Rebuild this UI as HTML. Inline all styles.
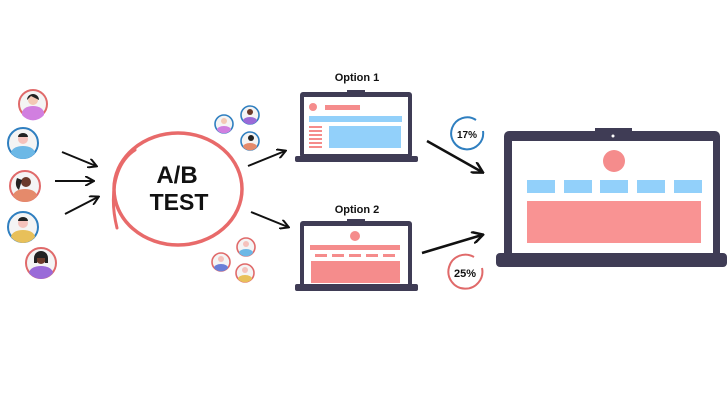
<!DOCTYPE html>
<html><head><meta charset="utf-8"><style>html,body{margin:0;padding:0;background:#fff;width:727px;height:409px;overflow:hidden}svg{display:block}text{font-family:"Liberation Sans",sans-serif;font-weight:bold;fill:#111}</style></head><body>
<svg width="727" height="409" viewBox="0 0 727 409" xmlns="http://www.w3.org/2000/svg">
<defs>
<marker id="ah" viewBox="0 0 10 10" refX="8" refY="5" markerWidth="5" markerHeight="5" orient="auto"><path d="M0,0 L9,5 L0,10" fill="none" stroke="#111" stroke-width="2"/></marker>
</defs>
<g stroke="#111" stroke-width="2" fill="none" marker-end="url(#ah)">
<line x1="62" y1="152" x2="96" y2="166"/><line x1="55" y1="181" x2="93" y2="181"/><line x1="65" y1="214" x2="98" y2="197"/>
<line x1="248" y1="166" x2="285" y2="151"/><line x1="251" y1="212" x2="288" y2="227"/>
<line x1="427" y1="141" x2="482" y2="172" stroke-width="2.5"/><line x1="422" y1="253" x2="482" y2="235" stroke-width="2.5"/>
</g>
<g stroke-width="2">
<g><circle cx="33" cy="104" r="14" fill="#f4f4f4" stroke="#e06a6a"/><path d="M22,113 a11,7 0 0 1 22,0 v2 a14,14 0 0 1 -22,0z" fill="#d17fe0"/><circle cx="33" cy="100" r="5" fill="#f3c9b5"/><path d="M27,100 a6,6 0 0 1 12,0 l-2,-1 -6,-3z" fill="#222"/></g>
<g><circle cx="23" cy="143" r="15" fill="#f4f4f4" stroke="#2f7fc0"/><path d="M11,153 a12,7 0 0 1 24,0 a15,15 0 0 1 -24,0z" fill="#6cb8e6"/><circle cx="23" cy="139" r="5" fill="#f5c2bc"/><path d="M18,137 a5,4 0 0 1 10,0z" fill="#222"/></g>
<g><circle cx="25" cy="186" r="15" fill="#f4f4f4" stroke="#e06a6a"/><path d="M13,196 a12,7 0 0 1 24,0 a15,15 0 0 1 -24,0z" fill="#e58a6b"/><circle cx="26" cy="182" r="5" fill="#6b3a2a"/><path d="M17,178 q-3,8 2,12 l3,-10z" fill="#222"/></g>
<g><circle cx="23" cy="227" r="15" fill="#f4f4f4" stroke="#2f7fc0"/><path d="M11,237 a12,7 0 0 1 24,0 a15,15 0 0 1 -24,0z" fill="#e8c05a"/><circle cx="23" cy="223" r="5" fill="#f5c2bc"/><path d="M18,221 a5,4 0 0 1 10,0z" fill="#222"/></g>
<g><circle cx="41" cy="263" r="15" fill="#f4f4f4" stroke="#e06a6a"/><path d="M29,273 a12,7 0 0 1 24,0 a15,15 0 0 1 -24,0z" fill="#9a6ad8"/><circle cx="41" cy="259" r="5" fill="#6b3a2a"/><path d="M34,263 v-5 a7,7 0 0 1 14,0 v5 h-3 v-5 h-8 v5z" fill="#222"/></g>
</g>
<g stroke-width="1.6">
<g><circle cx="224" cy="124" r="9" fill="#f4f4f4" stroke="#2f7fc0"/><path d="M217,130 a7,4 0 0 1 14,0 a9,9 0 0 1 -14,0z" fill="#d17fe0"/><circle cx="224" cy="121" r="3" fill="#f3c9b5"/></g>
<g><circle cx="250" cy="115" r="9" fill="#f4f4f4" stroke="#2f7fc0"/><path d="M243,121 a7,4 0 0 1 14,0 a9,9 0 0 1 -14,0z" fill="#9a6ad8"/><circle cx="250" cy="112" r="3" fill="#6b3a2a"/></g>
<g><circle cx="250" cy="141" r="9" fill="#f4f4f4" stroke="#2f7fc0"/><path d="M243,147 a7,4 0 0 1 14,0 a9,9 0 0 1 -14,0z" fill="#e58a6b"/><circle cx="251" cy="138" r="3" fill="#222"/></g>
<g><circle cx="246" cy="247" r="9" fill="#f4f4f4" stroke="#e06a6a"/><path d="M239,253 a7,4 0 0 1 14,0 a9,9 0 0 1 -14,0z" fill="#6cb8e6"/><circle cx="246" cy="244" r="3" fill="#f5c2bc"/></g>
<g><circle cx="221" cy="262" r="9" fill="#f4f4f4" stroke="#e06a6a"/><path d="M214,268 a7,4 0 0 1 14,0 a9,9 0 0 1 -14,0z" fill="#6a7fd8"/><circle cx="221" cy="259" r="3" fill="#f5c2bc"/></g>
<g><circle cx="245" cy="273" r="9" fill="#f4f4f4" stroke="#e06a6a"/><path d="M238,279 a7,4 0 0 1 14,0 a9,9 0 0 1 -14,0z" fill="#e8c05a"/><circle cx="245" cy="270" r="3" fill="#f5c2bc"/></g>
</g>
<ellipse cx="178" cy="189" rx="64" ry="56" fill="none" stroke="#e86a6a" stroke-width="3.5"/>
<path d="M117,228 C110,200 112,165 135,150" fill="none" stroke="#e86a6a" stroke-width="3" stroke-linecap="round"/>
<text x="177" y="183" font-size="24" text-anchor="middle">A/B</text>
<text x="179" y="210" font-size="23" text-anchor="middle">TEST</text>
<text x="357" y="81" font-size="11" text-anchor="middle">Option 1</text>
<rect x="300" y="92" width="112" height="66" rx="3" fill="#3f3c55"/><rect x="347" y="90" width="18" height="4" fill="#3f3c55"/>
<rect x="304" y="97" width="104" height="57" fill="#fff"/><rect x="295" y="156" width="123" height="6" rx="2" fill="#3f3c55"/>
<circle cx="313" cy="107" r="4" fill="#f58c8c"/><rect x="325" y="105" width="35" height="5" fill="#f58c8c"/>
<rect x="309" y="116" width="93" height="6" fill="#92d0fa"/><rect x="329" y="126" width="72" height="22" fill="#92d0fa"/>
<g fill="#f58c8c"><rect x="309" y="126" width="13" height="2"/><rect x="309" y="130" width="13" height="2"/><rect x="309" y="134" width="13" height="2"/><rect x="309" y="138" width="13" height="2"/><rect x="309" y="142" width="13" height="2"/><rect x="309" y="146" width="13" height="2"/></g>
<text x="357" y="213" font-size="11" text-anchor="middle">Option 2</text>
<rect x="300" y="221" width="112" height="66" rx="3" fill="#3f3c55"/><rect x="347" y="219" width="18" height="4" fill="#3f3c55"/>
<rect x="304" y="226" width="104" height="58" fill="#fff"/><rect x="295" y="284" width="123" height="7" rx="2" fill="#3f3c55"/>
<circle cx="355" cy="236" r="5" fill="#f58c8c"/><rect x="310" y="245" width="90" height="5" fill="#f58c8c"/>
<g fill="#f58c8c"><rect x="315" y="254" width="12" height="3"/><rect x="332" y="254" width="12" height="3"/><rect x="349" y="254" width="12" height="3"/><rect x="366" y="254" width="12" height="3"/><rect x="383" y="254" width="12" height="3"/></g>
<rect x="311" y="261" width="89" height="22" fill="#f58c8c"/>
<path d="M476,120 A16,16 0 1 0 483,131" fill="none" stroke="#2f7fc0" stroke-width="2"/>
<text x="467" y="138" font-size="10" text-anchor="middle">17%</text>
<path d="M474,257 A17,17 0 1 0 482,268" fill="none" stroke="#e06a6a" stroke-width="2"/>
<text x="465" y="277" font-size="11" text-anchor="middle">25%</text>
<rect x="504" y="131" width="216" height="128" rx="5" fill="#3f3c55"/><rect x="595" y="128" width="37" height="5" fill="#3f3c55"/>
<circle cx="613" cy="136" r="1.5" fill="#fff"/>
<rect x="512" y="141" width="201" height="112" fill="#fff"/><rect x="496" y="253" width="231" height="14" rx="4" fill="#3f3c55"/>
<circle cx="614" cy="161" r="11" fill="#f58c8c"/>
<g fill="#92d0fa"><rect x="527" y="180" width="28" height="13"/><rect x="564" y="180" width="28" height="13"/><rect x="600" y="180" width="28" height="13"/><rect x="637" y="180" width="28" height="13"/><rect x="674" y="180" width="28" height="13"/></g>
<rect x="527" y="201" width="174" height="42" fill="#f99393"/>
</svg>
</body></html>
